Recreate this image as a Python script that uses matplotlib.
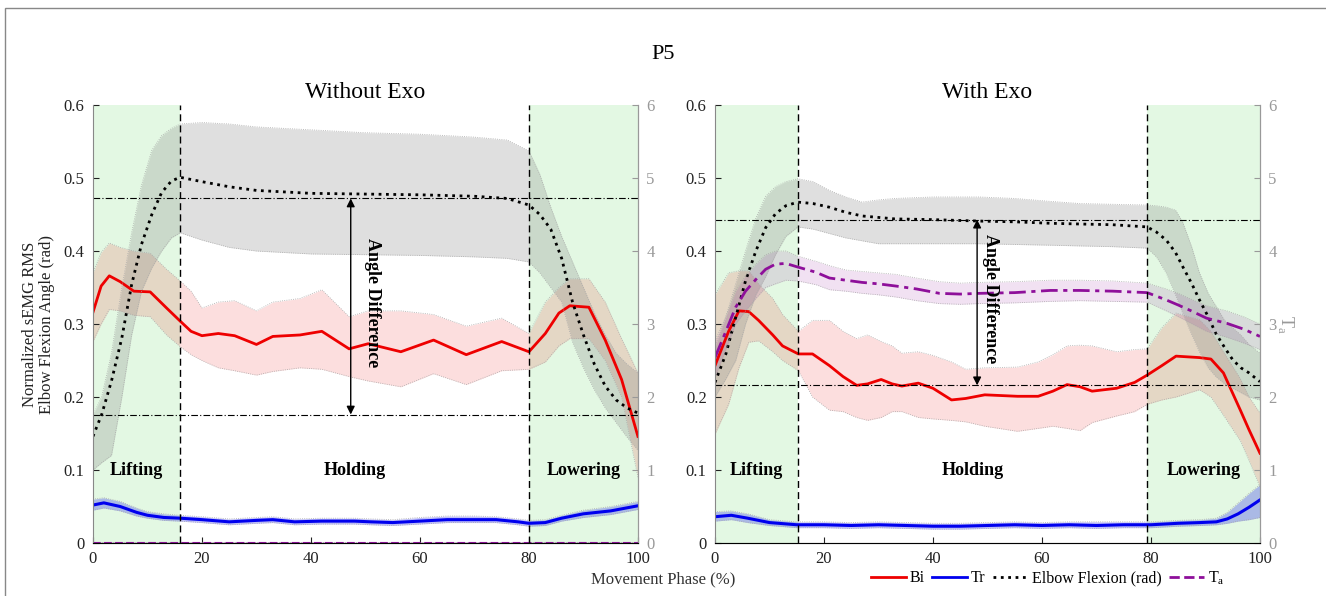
import numpy as np
import matplotlib
matplotlib.use('Agg')
import matplotlib.pyplot as plt
from matplotlib.lines import Line2D
from matplotlib.patches import Rectangle

plt.rcParams['font.family'] = ['Liberation Serif', 'DejaVu Serif']
plt.rcParams['mathtext.fontset'] = 'custom'
plt.rcParams['mathtext.rm'] = 'Liberation Serif'

# ---------------- data: Without Exo ----------------
bi_wo_x = [0, 1.5, 3, 5, 7.5, 10.5, 13.5, 16, 18, 20, 23, 26, 30, 33, 38, 42, 47, 50.5, 56.5, 62.5, 68.5, 75, 80, 83, 85.5, 87.5, 91, 94, 97, 100]
bi_wo = [0.316, 0.352, 0.366, 0.358, 0.345, 0.344, 0.322, 0.304, 0.29, 0.284, 0.287, 0.284, 0.272, 0.283, 0.285, 0.290, 0.266, 0.273, 0.262, 0.278, 0.258, 0.276, 0.262, 0.287, 0.315, 0.325, 0.323, 0.278, 0.224, 0.146]
bi_wo_hi = [0.37, 0.398, 0.411, 0.405, 0.4, 0.397, 0.375, 0.359, 0.345, 0.322, 0.33, 0.332, 0.318, 0.33, 0.335, 0.347, 0.31, 0.318, 0.318, 0.313, 0.297, 0.308, 0.287, 0.33, 0.35, 0.362, 0.362, 0.33, 0.28, 0.233]
bi_wo_lo = [0.276, 0.3, 0.32, 0.318, 0.312, 0.31, 0.285, 0.269, 0.258, 0.25, 0.24, 0.236, 0.23, 0.235, 0.24, 0.238, 0.228, 0.222, 0.214, 0.232, 0.217, 0.236, 0.238, 0.248, 0.27, 0.28, 0.28, 0.25, 0.2, 0.09]

tr_wo_x = [0, 2, 5, 8, 10, 13, 16, 20, 25, 30, 33, 37, 42, 48, 51, 55, 60, 65, 70, 74, 78, 80, 83, 86, 90, 95, 100]
tr_wo = [0.052, 0.055, 0.05, 0.042, 0.038, 0.035, 0.034, 0.032, 0.029, 0.031, 0.032, 0.029, 0.03, 0.03, 0.029, 0.028, 0.03, 0.032, 0.032, 0.032, 0.029, 0.027, 0.028, 0.034, 0.040, 0.044, 0.051]
tr_wo_hi = [0.06, 0.062, 0.057, 0.048, 0.043, 0.04, 0.038, 0.036, 0.033, 0.035, 0.036, 0.033, 0.034, 0.034, 0.033, 0.032, 0.035, 0.037, 0.037, 0.036, 0.033, 0.031, 0.032, 0.038, 0.045, 0.05, 0.057]
tr_wo_lo = [0.045, 0.048, 0.044, 0.037, 0.034, 0.031, 0.03, 0.028, 0.025, 0.027, 0.028, 0.025, 0.026, 0.026, 0.025, 0.024, 0.026, 0.028, 0.028, 0.028, 0.025, 0.023, 0.024, 0.03, 0.035, 0.039, 0.046]

el_wo_x = [0, 1.6, 3.4, 5.3, 7.1, 8.9, 10.8, 12.6, 14.4, 16, 20, 25, 30, 40, 50, 60, 70, 76, 80, 82, 84, 86, 88, 90, 92, 94, 96, 98, 100]
el_wo = [0.146, 0.176, 0.222, 0.281, 0.354, 0.409, 0.45, 0.48, 0.496, 0.501, 0.495, 0.488, 0.483, 0.479, 0.478, 0.477, 0.475, 0.472, 0.463, 0.45, 0.43, 0.39, 0.33, 0.285, 0.245, 0.215, 0.196, 0.185, 0.178]
el_wo_hi = [0.175, 0.2, 0.26, 0.35, 0.425, 0.49, 0.538, 0.558, 0.568, 0.574, 0.576, 0.574, 0.57, 0.566, 0.562, 0.56, 0.556, 0.552, 0.537, 0.505, 0.46, 0.42, 0.385, 0.35, 0.315, 0.285, 0.26, 0.245, 0.233]
el_wo_lo = [0.1, 0.11, 0.12, 0.2, 0.285, 0.345, 0.377, 0.4, 0.418, 0.425, 0.415, 0.405, 0.4, 0.396, 0.395, 0.394, 0.392, 0.39, 0.385, 0.37, 0.35, 0.33, 0.275, 0.24, 0.21, 0.185, 0.165, 0.145, 0.127]

ta_wo_x = [0, 100]
ta_wo = [0.0, 0.0]
ta_wo_hi = [0.002, 0.002]
ta_wo_lo = [0.0, 0.0]

# ---------------- data: With Exo ----------------
bi_w_x = [0, 2.5, 4.4, 6.2, 8, 10.6, 12.4, 15.3, 17.9, 21, 23.5, 26, 28, 30.5, 32.5, 34.3, 37.3, 40, 43.4, 46, 49.5, 55.5, 59.3, 62, 64.6, 67, 69.2, 73.7, 77, 79.3, 82, 84.6, 88.9, 91, 93.3, 96.4, 98, 100]
bi_w = [0.243, 0.29, 0.318, 0.317, 0.305, 0.285, 0.27, 0.259, 0.259, 0.243, 0.228, 0.216, 0.218, 0.224, 0.218, 0.215, 0.219, 0.212, 0.196, 0.198, 0.203, 0.201, 0.201, 0.208, 0.217, 0.214, 0.208, 0.212, 0.22, 0.23, 0.243, 0.256, 0.254, 0.252, 0.233, 0.182, 0.155, 0.123]
bi_w_hi = [0.34, 0.37, 0.373, 0.373, 0.355, 0.335, 0.313, 0.29, 0.305, 0.305, 0.29, 0.28, 0.285, 0.276, 0.27, 0.26, 0.262, 0.257, 0.248, 0.238, 0.24, 0.241, 0.248, 0.258, 0.27, 0.271, 0.27, 0.262, 0.265, 0.266, 0.295, 0.315, 0.306, 0.29, 0.262, 0.225, 0.2, 0.178]
bi_w_lo = [0.149, 0.19, 0.24, 0.275, 0.277, 0.262, 0.25, 0.236, 0.2, 0.182, 0.18, 0.172, 0.168, 0.172, 0.18, 0.18, 0.172, 0.17, 0.168, 0.166, 0.16, 0.153, 0.157, 0.16, 0.157, 0.154, 0.165, 0.174, 0.18, 0.19, 0.196, 0.2, 0.21, 0.2, 0.175, 0.14, 0.113, 0.077]

tr_w_x = [0, 3, 6, 10, 15, 20, 25, 30, 35, 40, 45, 50, 55, 60, 65, 70, 75, 80, 85, 89, 92, 94, 96, 98, 100]
tr_w = [0.036, 0.038, 0.034, 0.028, 0.025, 0.025, 0.024, 0.025, 0.024, 0.023, 0.023, 0.024, 0.025, 0.024, 0.025, 0.024, 0.025, 0.025, 0.027, 0.028, 0.029, 0.033, 0.04, 0.049, 0.059]
tr_w_hi = [0.043, 0.044, 0.04, 0.032, 0.029, 0.029, 0.028, 0.029, 0.028, 0.027, 0.027, 0.028, 0.029, 0.028, 0.029, 0.029, 0.029, 0.029, 0.031, 0.032, 0.034, 0.042, 0.055, 0.068, 0.08]
tr_w_lo = [0.03, 0.032, 0.028, 0.024, 0.021, 0.021, 0.02, 0.021, 0.02, 0.019, 0.019, 0.02, 0.021, 0.02, 0.021, 0.02, 0.021, 0.021, 0.023, 0.024, 0.025, 0.027, 0.03, 0.032, 0.035]

el_w_x = [0, 2, 3.8, 5.6, 7.5, 9.3, 11.1, 13, 15.2, 18, 21, 24, 27, 30, 33, 40, 48.5, 55, 61.5, 67, 73, 79.3, 81, 82.8, 84.5, 85.8, 87.5, 88.9, 90.5, 91.9, 93.5, 95, 96.5, 98, 100]
el_w = [0.22, 0.259, 0.309, 0.359, 0.4, 0.432, 0.451, 0.462, 0.467, 0.465, 0.46, 0.453, 0.448, 0.446, 0.444, 0.443, 0.441, 0.44, 0.438, 0.437, 0.436, 0.433, 0.426, 0.415, 0.398, 0.379, 0.355, 0.333, 0.31, 0.287, 0.268, 0.251, 0.24, 0.233, 0.221]
el_w_hi = [0.268, 0.31, 0.355, 0.4, 0.445, 0.475, 0.488, 0.495, 0.499, 0.495, 0.483, 0.474, 0.467, 0.47, 0.472, 0.474, 0.474, 0.472, 0.468, 0.465, 0.464, 0.463, 0.462, 0.46, 0.456, 0.44, 0.405, 0.37, 0.342, 0.325, 0.305, 0.295, 0.285, 0.272, 0.26]
el_w_lo = [0.2, 0.225, 0.25, 0.3, 0.34, 0.365, 0.395, 0.42, 0.433, 0.43, 0.424, 0.418, 0.414, 0.41, 0.41, 0.41, 0.41, 0.409, 0.408, 0.407, 0.406, 0.404, 0.392, 0.37, 0.34, 0.315, 0.285, 0.262, 0.24, 0.228, 0.218, 0.212, 0.206, 0.2, 0.196]

ta_w_x = [0, 2, 3.8, 5.6, 7.5, 9.3, 11.1, 13, 15.2, 18.5, 21, 24, 27, 30, 33.2, 37, 41.2, 45, 48.5, 55, 61.5, 67, 73, 79.3, 82.8, 85, 87.1, 90.2, 93.9, 97, 100]
ta_w = [0.254, 0.29, 0.323, 0.345, 0.361, 0.375, 0.382, 0.383, 0.378, 0.371, 0.363, 0.36, 0.357, 0.355, 0.352, 0.348, 0.342, 0.341, 0.342, 0.343, 0.346, 0.346, 0.345, 0.343, 0.333, 0.326, 0.319, 0.308, 0.301, 0.293, 0.283]
ta_w_hi = [0.277, 0.31, 0.345, 0.366, 0.382, 0.395, 0.4, 0.4, 0.393, 0.386, 0.38, 0.374, 0.372, 0.37, 0.368, 0.363, 0.358, 0.356, 0.357, 0.358, 0.36, 0.36, 0.359, 0.356, 0.348, 0.342, 0.335, 0.325, 0.318, 0.31, 0.3]
ta_w_lo = [0.227, 0.265, 0.3, 0.318, 0.335, 0.35, 0.355, 0.36, 0.359, 0.354, 0.347, 0.345, 0.342, 0.34, 0.337, 0.332, 0.328, 0.327, 0.328, 0.329, 0.331, 0.332, 0.331, 0.33, 0.318, 0.31, 0.302, 0.29, 0.282, 0.274, 0.265]

# phase borders, reference lines, arrow / text positions
phase_wo = [16, 80]
phase_w = [15.2, 79.3]
ref_wo = [0.472, 0.176]
ref_w = [0.443, 0.216]
arrow_x = [47.3, 48.1]
label_x = [51.3, 50.6]

RED = '#ee0000'
BLUE = '#0000ee'
PURPLE = '#8e0f9a'
GREEN = '#e3f8e3'
GREY = '#999999'


def panel(ax, series, phase, ref, ax_x, lab_x, title):
    ax.axvspan(0, phase[0], color=GREEN, lw=0, zorder=0)
    ax.axvspan(phase[1], 100, color=GREEN, lw=0, zorder=0)
    # band, band outline, then mean line for each signal
    for (x, m, lo, hi, col, alpha, ls, lw) in series:
        ax.fill_between(x, lo, hi, color=col, alpha=alpha, linewidth=0)
        ax.plot(x, lo, ':', color='#aaaaaa', lw=0.6)
        ax.plot(x, hi, ':', color='#aaaaaa', lw=0.6)
        ax.plot(x, m, linestyle=ls, color='k' if col == 'grey' else col, lw=lw)
    for p in phase:
        ax.axvline(p, color='k', ls=(0, (5, 3)), lw=1)
    for r in ref:
        ax.axhline(r, color='k', ls=(0, (6, 2, 1, 2)), lw=0.8)
    ax.annotate('', xy=(ax_x, ref[1]), xytext=(ax_x, ref[0]),
                arrowprops=dict(arrowstyle='<|-|>', color='k', lw=1, mutation_scale=12, shrinkA=0, shrinkB=0))
    ax.text(lab_x, (ref[0] + ref[1]) / 2 + 0.005, 'Angle Difference', rotation=-90, ha='center', va='center',
            fontsize=13, fontweight='bold')
    ax.text(phase[0] / 2, 0.1, 'Lifting', ha='center', va='center', fontsize=13, fontweight='bold')
    ax.text((phase[0] + phase[1]) / 2, 0.1, 'Holding', ha='center', va='center', fontsize=13, fontweight='bold')
    ax.text((phase[1] + 100) / 2, 0.1, 'Lowering', ha='center', va='center', fontsize=13, fontweight='bold')

    ax.set_xlim(0, 100)
    ax.set_ylim(0, 0.6)
    ax.set_xticks([0, 20, 40, 60, 80, 100])
    ax.set_yticks([0, 0.1, 0.2, 0.3, 0.4, 0.5, 0.6])
    ax.set_yticklabels(['0', '0.1', '0.2', '0.3', '0.4', '0.5', '0.6'])
    ax.tick_params(direction='in', labelsize=12, colors='#222222', length=4, pad=6)
    ax.spines['top'].set_visible(False)
    for s in ['left', 'bottom', 'right']:
        ax.spines[s].set_color('#888888')
    ax.set_title(title, fontsize=17, pad=5)

    ax2 = ax.twinx()
    ax2.set_ylim(0, 6)
    ax2.set_yticks(range(7))
    ax2.tick_params(direction='in', labelsize=12, colors=GREY, length=4, pad=6)
    ax2.spines['top'].set_visible(False)
    ax2.spines['right'].set_color(GREY)
    ax2.spines['left'].set_visible(False)
    return ax2


fig = plt.figure(figsize=(13.26, 5.96), dpi=100)
ax_l = fig.add_axes([0.0701, 0.0889, 0.411, 0.7349])
ax_r = fig.add_axes([0.5392, 0.0889, 0.411, 0.7349])

series_wo = [
    (bi_wo_x, bi_wo, bi_wo_lo, bi_wo_hi, RED, 0.13, '-', 2),
    (tr_wo_x, tr_wo, tr_wo_lo, tr_wo_hi, BLUE, 0.25, '-', 2.2),
    (el_wo_x, el_wo, el_wo_lo, el_wo_hi, 'grey', 0.25, ':', 2),
    (ta_wo_x, ta_wo, ta_wo_lo, ta_wo_hi, PURPLE, 0.15, '--', 1.5),
]
series_w = [
    (bi_w_x, bi_w, bi_w_lo, bi_w_hi, RED, 0.13, '-', 2),
    (tr_w_x, tr_w, tr_w_lo, tr_w_hi, BLUE, 0.25, '-', 2.2),
    (el_w_x, el_w, el_w_lo, el_w_hi, 'grey', 0.25, ':', 2),
    (ta_w_x, ta_w, ta_w_lo, ta_w_hi, PURPLE, 0.12, (0, (6, 2, 1.5, 2)), 2),
]

panel(ax_l, series_wo, phase_wo, ref_wo, arrow_x[0], label_x[0], 'Without Exo')
ax2r = panel(ax_r, series_w, phase_w, ref_w, arrow_x[1], label_x[1], 'With Exo')
ax2r.set_ylabel('T$_\\mathregular{a}$', rotation=-90, color=GREY, fontsize=13, labelpad=14)

fig.text(0.5, 0.908, 'P5', ha='center', va='center', fontsize=16)
fig.text(0.029, 0.456, 'Normalized sEMG RMS\nElbow Flexion Angle (rad)', rotation=90, ha='center', va='center',
         fontsize=12, color='#222222', linespacing=1.1)
fig.text(0.5, 0.028, 'Movement Phase (%)', ha='center', va='center', fontsize=12, color='#333333')

handles = [Line2D([], [], color=RED, lw=2), Line2D([], [], color=BLUE, lw=2),
           Line2D([], [], color='k', ls=':', lw=2), Line2D([], [], color=PURPLE, ls='--', lw=2)]
fig.legend(handles, ['Bi', 'Tr', 'Elbow Flexion (rad)', 'T$_\\mathregular{a}$'], loc='center',
           bbox_to_anchor=(0.79, 0.03), ncol=4, frameon=False, fontsize=11.5, handlelength=2.2,
           columnspacing=0.5, handletextpad=0.2)

# figure frame
fig.add_artist(Rectangle((0.0038, -0.05), 1.2, 1.0366, transform=fig.transFigure, fill=False,
                         edgecolor='#888888', lw=1))

fig.savefig('out.png', dpi=100)
